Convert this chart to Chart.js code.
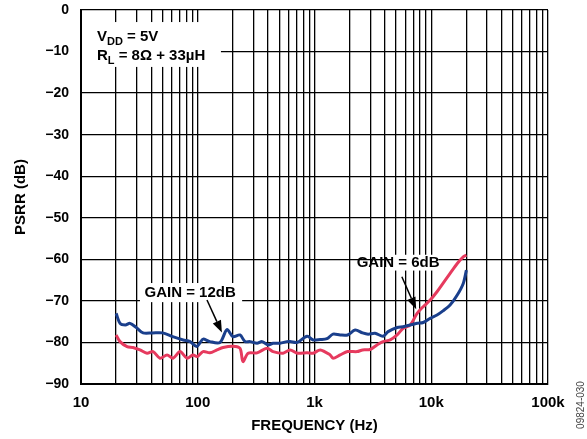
<!DOCTYPE html>
<html><head><meta charset="utf-8">
<script src="https://cdn.jsdelivr.net/npm/chart.js@4.4.0/dist/chart.umd.min.js"></script>
<style>html,body{margin:0;padding:0;background:#fff}</style>
</head><body>
<canvas id="c" width="587" height="439"></canvas>
<script>
// ---- data ----
const blueFreq = [20, 21.6, 24, 26.3, 30, 34, 41, 50, 61, 75, 86, 98, 105, 111, 127, 155, 178, 200, 230, 254, 281, 322, 356, 400, 442, 507, 582, 618, 710, 865, 973, 1120, 1280, 1440, 1660, 1920, 2230, 2580, 2880, 3300, 3870, 4270, 5100, 5750, 6600, 7570, 8530, 9790, 11200, 12600, 14500, 16700, 18800, 20000];
const blueDb = [-73, -75.4, -75.8, -75.4, -76.5, -77.7, -77.7, -77.7, -78.6, -79.4, -79.8, -81, -80, -79.2, -79.8, -80, -76.9, -78.6, -78.2, -79.8, -79.8, -80.2, -79.8, -80.6, -80.2, -80.2, -79.8, -79.8, -80, -78.5, -79.4, -79.3, -79.1, -78, -78.2, -78.2, -77, -77.7, -78, -77.8, -78.5, -77.4, -76.4, -76.2, -75.8, -75.4, -75.2, -74.2, -73.4, -72.4, -71, -68.6, -65.8, -62.6];
const redFreq = [20, 21.6, 24.8, 27.9, 32, 36.8, 41.4, 47.5, 54.6, 61.4, 70.5, 81, 91, 98.6, 111, 127, 146, 165, 200, 230, 244, 270, 322, 392, 442, 538, 618, 710, 865, 973, 1120, 1360, 1440, 1660, 1920, 2320, 2580, 2990, 3430, 3870, 4450, 5100, 5750, 6600, 7570, 8530, 9790, 11200, 12600, 14500, 16700, 18800, 20000];
const redDb = [-78.2, -79.8, -81, -81.2, -81.8, -82.6, -82.2, -83.8, -83, -83.8, -82.2, -83.8, -83, -83.4, -82.2, -82.5, -81.8, -81.2, -80.9, -81.4, -84.6, -82.6, -82.5, -81.4, -82.2, -82.6, -81.8, -82.6, -82.5, -82.6, -81.8, -83, -83.8, -83, -82.2, -82.2, -81.8, -81.7, -80.6, -79.8, -79.4, -78.2, -76.6, -75.8, -73, -71.4, -69.8, -67.8, -65.8, -63.4, -61, -59.4, -59];
const seriesNames = ['GAIN = 12dB', 'GAIN = 6dB'];
const xDecades = [10, 100, 1000, 10000, 100000];
const xDecadeLabels = ['10', '100', '1k', '10k', '100k'];
const yTicks = [0, -10, -20, -30, -40, -50, -60, -70, -80, -90];
const yTickLabels = ['0', '\u221210', '\u221220', '\u221230', '\u221240', '\u221250', '\u221260', '\u221270', '\u221280', '\u221290'];

// ---- helpers ----
const FONT = '"Liberation Sans", Arial, sans-serif';
const xGridValues = [];
for (let d = 0; d < xDecades.length - 1; d++) {
  for (let m = 1; m <= 9; m++) xGridValues.push(xDecades[d] * m);
}
xGridValues.push(xDecades[xDecades.length - 1]);

// annotation layout (in data coordinates)
const notes = {
  condBox: {f0: 10.2, f1: 158, d0: -2.9, d1: -13.7},
  condLines: [
    {f: 13.7, d: -7.5, main: 'V', sub: 'DD', rest: ' = 5V'},
    {f: 13.7, d: -12.0, main: 'R', sub: 'L', rest: ' = 8\u03A9 + 33\u00B5H'}
  ],
  labels: [
    {text: seriesNames[0], f: 86, d: -68, box: {f0: 32, f1: 240, d0: -65.7, d1: -70.3},
     arrow: {f0: 120, d0: -69.8, f1: 161, d1: -77.6}},
    {text: seriesNames[1], f: 5200, d: -60.9, box: {f0: 4700, f1: 11500, d0: -58.9, d1: -62.7},
     arrow: {f0: 5600, d0: -64.2, f1: 7430, d1: -72.0}}
  ]
};

const annot = {
  id: 'annot',
  beforeDatasetsDraw(chart) {
    const {ctx, scales: {x, y}} = chart;
    const X = v => x.getPixelForValue(v), Y = v => y.getPixelForValue(v);
    ctx.save();
    ctx.fillStyle = '#fff';
    const boxes = [notes.condBox].concat(notes.labels.map(l => l.box));
    boxes.forEach(b => ctx.fillRect(X(b.f0), Y(b.d0), X(b.f1) - X(b.f0), Y(b.d1) - Y(b.d0)));
    ctx.fillStyle = '#000';
    ctx.textBaseline = 'alphabetic';
    notes.condLines.forEach(l => {
      let px = X(l.f); const py = Y(l.d);
      ctx.font = 'bold 15px ' + FONT;
      ctx.fillText(l.main, px, py); px += ctx.measureText(l.main).width;
      ctx.font = 'bold 11px ' + FONT;
      ctx.fillText(l.sub, px, py + 4); px += ctx.measureText(l.sub).width;
      ctx.font = 'bold 15px ' + FONT;
      ctx.fillText(l.rest, px, py);
    });
    ctx.textAlign = 'center';
    ctx.textBaseline = 'middle';
    ctx.font = 'bold 15px ' + FONT;
    notes.labels.forEach(l => ctx.fillText(l.text, X(l.f), Y(l.d)));
    ctx.restore();
  },
  afterDatasetsDraw(chart) {
    const {ctx, scales: {x, y}} = chart;
    const X = v => x.getPixelForValue(v), Y = v => y.getPixelForValue(v);
    ctx.save();
    ctx.strokeStyle = '#000'; ctx.fillStyle = '#000'; ctx.lineWidth = 1.5;
    notes.labels.forEach(l => {
      const a = l.arrow;
      const x0 = X(a.f0), y0 = Y(a.d0), x1 = X(a.f1), y1 = Y(a.d1);
      const ang = Math.atan2(y1 - y0, x1 - x0);
      const hl = 12, hw = 4.5;
      const bx = x1 - hl * Math.cos(ang), by = y1 - hl * Math.sin(ang);
      ctx.beginPath(); ctx.moveTo(x0, y0); ctx.lineTo(bx, by); ctx.stroke();
      ctx.beginPath();
      ctx.moveTo(x1, y1);
      ctx.lineTo(bx + hw * Math.sin(ang), by - hw * Math.cos(ang));
      ctx.lineTo(bx - hw * Math.sin(ang), by + hw * Math.cos(ang));
      ctx.closePath(); ctx.fill();
    });
    ctx.restore();
  },
  afterDraw(chart) {
    const {ctx} = chart;
    ctx.save();
    ctx.translate(581, 405);
    ctx.rotate(-Math.PI / 2);
    ctx.font = '10px ' + FONT;
    ctx.fillStyle = '#444';
    ctx.textAlign = 'center'; ctx.textBaseline = 'middle';
    ctx.fillText('09824-030', 0, 0);
    ctx.restore();
  }
};

new Chart(document.getElementById('c'), {
  type: 'line',
  data: {
    datasets: [
      {label: seriesNames[0], data: blueFreq.map((f, i) => ({x: f, y: blueDb[i]})),
       borderColor: '#1a3f8c', borderWidth: 3, pointRadius: 0, tension: 0.3, fill: false},
      {label: seriesNames[1], data: redFreq.map((f, i) => ({x: f, y: redDb[i]})),
       borderColor: '#e63a5e', borderWidth: 3, pointRadius: 0, tension: 0.3, fill: false}
    ]
  },
  options: {
    responsive: false,
    animation: false,
    devicePixelRatio: 1,
    layout: {padding: {top: 10, right: 39, left: 0, bottom: 0}},
    plugins: {legend: {display: false}, tooltip: {enabled: false}},
    scales: {
      x: {
        type: 'logarithmic', min: 10, max: 100000,
        afterBuildTicks: s => { s.ticks = xGridValues.map(v => ({value: v})); },
        afterFit: s => { s.height = 55; s.paddingLeft = 0; s.paddingRight = 0; },
        grid: {color: '#000', lineWidth: 1.3, drawTicks: false},
        border: {color: '#000', width: 2},
        ticks: {
          autoSkip: false, maxRotation: 0, padding: 10, color: '#000',
          font: {family: FONT, size: 15, weight: 'bold'},
          callback: v => { const i = xDecades.indexOf(v); return i >= 0 ? xDecadeLabels[i] : ''; }
        },
        title: {display: true, text: 'FREQUENCY (Hz)', color: '#000', padding: {top: 0, bottom: 4},
                font: {family: FONT, size: 15, weight: 'bold'}}
      },
      y: {
        type: 'linear', min: -90, max: 0,
        afterBuildTicks: s => { s.ticks = yTicks.map(v => ({value: v})); },
        afterFit: s => { s.width = 81; s.paddingTop = 0; s.paddingBottom = 0; },
        grid: {color: '#000', lineWidth: 1.3, drawTicks: false},
        border: {color: '#000', width: 2},
        ticks: {
          padding: 12, color: '#000',
          font: {family: FONT, size: 14, weight: 'bold'},
          callback: v => { const i = yTicks.indexOf(v); return i >= 0 ? yTickLabels[i] : ''; }
        },
        title: {display: true, text: 'PSRR (dB)', color: '#000', padding: {top: 12, bottom: 0},
                font: {family: FONT, size: 15, weight: 'bold'}}
      }
    }
  },
  plugins: [annot]
});
</script>
</body></html>
